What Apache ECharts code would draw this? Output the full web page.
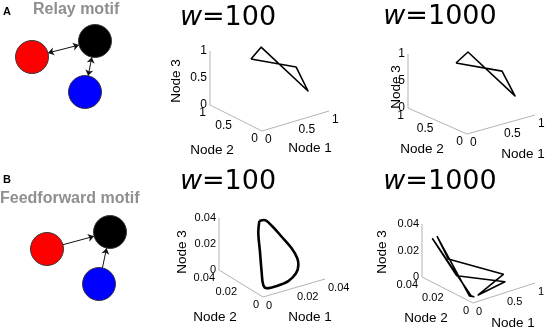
<!DOCTYPE html>
<html>
<head>
<meta charset="utf-8">
<script src="https://cdn.jsdelivr.net/npm/echarts@6/dist/echarts.min.js"></script>
<style>
  html, body { margin: 0; padding: 0; background: #fff; }
  #chart { width: 546px; height: 329px; }
</style>
</head>
<body>
<div id="chart"></div>
<script>
// trajectories, each point is [node 1, node 2, node 3]
const relayW100 = [[0.5, 0.856, 0.735], [0.6, 0.79, 0.95], [0.9, 0.275, 0.275], [0.85, 0.44, 0.66], [0.5, 0.856, 0.735]];
const relayW1000 = [[0.5, 0.763, 0.772], [0.6, 0.675, 0.983], [0.9, 0.224, 0.28], [0.85, 0.386, 0.68], [0.5, 0.763, 0.772]];
const ffW100 = [
  [0.0175, 0.028, 0.0379], [0.0205, 0.028, 0.0376], [0.0241, 0.026, 0.033], [0.0291, 0.024, 0.0238],
  [0.0341, 0.022, 0.0142], [0.0363, 0.02, 0.0068], [0.0356, 0.018, 0.003], [0.0298, 0.012, 0.0017],
  [0.022, 0.008, 0.0005], [0.0131, 0.006, 0.0008], [0.0058, 0.0048, 0.0022], [0.0044, 0.006, 0.0046],
  [0.0062, 0.01, 0.0121], [0.0094, 0.016, 0.0233], [0.014, 0.024, 0.0329], [0.0175, 0.028, 0.0379]
];
const ffW1000 = [
  [0.05, 0.0344, 0.0312], [0.1, 0.0064, 0.0008], [0.12, 0.0052, 0.0004], [0.07, 0.0062, 0.0012],
  [0.1, 0.0329, 0.0324], [0.15, 0.0267, 0.0179],
  [0.8, 0.0151, 0.0022], [0.2, 0.0056, 0.0003], [0.7, 0.009, 0.0011], [0.1, 0.0176, 0.0104],
  [0.05, 0.0344, 0.0312]
];

const ticksUnit = [0, 0.5, 1];
const ticksSmall = [0, 0.02, 0.04];
const labelsUnit = ['0', '0.5', '1'];
const labelsSmall = ['0', '0.02', '0.04'];
const labelsZRelay1000 = ['0', '5', '1'];   // "0." hidden under the axis name in the source

const motifNodes = ['Node 1', 'Node 2', 'Node 3'];
const motifColors = ['#ff0000', '#0000ff', '#000000'];
const relayLinks = [['Node 1', 'Node 3'], ['Node 3', 'Node 2']];
const ffLinks = [['Node 1', 'Node 3'], ['Node 2', 'Node 3']];

const FONT = '"Liberation Sans", Arial, sans-serif';

// layout of each projected 3d box (pixels): origin + full-range axis vectors
const panels = [
  { w: '100', tx: 228, ty: 18, data: relayW100, max: [1, 1, 1], t1: ticksUnit, t2: ticksUnit, t3: ticksUnit,
    l1: labelsUnit, l2: labelsUnit, l3: labelsUnit, O: [262, 131], e1: [67, -20], e2: [-52, -26], e3: [0, -54],
    fs: 12, lw: 1.6, smooth: false, n1: [310, 148], n2: [212, 150], n3: [176, 81] },
  { w: '1000', tx: 440, ty: 17, data: relayW1000, max: [1, 1, 1], t1: ticksUnit, t2: ticksUnit, t3: ticksUnit,
    l1: labelsUnit, l2: labelsUnit, l3: labelsZRelay1000, O: [467, 134], e1: [68, -19], e2: [-59, -26], e3: [0, -54],
    fs: 12, lw: 1.6, smooth: false, n1: [523, 154], n2: [422, 149], n3: [396, 87] },
  { w: '100', tx: 228, ty: 182, data: ffW100, max: [0.04, 0.04, 0.04], t1: ticksSmall, t2: ticksSmall, t3: ticksSmall,
    l1: labelsSmall, l2: labelsSmall, l3: labelsSmall, O: [263, 297], e1: [62, -18], e2: [-44, -27], e3: [0, -52],
    fs: 11, lw: 2.6, smooth: 0.35, n1: [310, 317], n2: [215, 317], n3: [182, 252] },
  { w: '1000', tx: 440, ty: 182, data: ffW1000, max: [1, 0.04, 0.04], t1: ticksUnit, t2: ticksSmall, t3: ticksSmall,
    l1: labelsUnit, l2: labelsSmall, l3: labelsSmall, O: [473, 303], e1: [62, -20], e2: [-51, -26], e3: [0, -53],
    fs: 11, lw: 1.6, smooth: false, n1: [513, 323], n2: [426, 318], n3: [382, 252] }
];

function project(p, cfg) {
  const a = p[0] / cfg.max[0], b = p[1] / cfg.max[1], c = p[2] / cfg.max[2];
  return [
    cfg.O[0] + a * cfg.e1[0] + b * cfg.e2[0] + c * cfg.e3[0],
    cfg.O[1] + a * cfg.e1[1] + b * cfg.e2[1] + c * cfg.e3[1]
  ];
}

const series = [];
const graphic = [];

panels.forEach(cfg => {
  const m = cfg.max;
  // box axes: node1 end -> origin -> node2 end -> up node3
  series.push({
    type: 'line', symbol: 'none', silent: true, animation: false,
    data: [[m[0], 0, 0], [0, 0, 0], [0, m[1], 0], [0, m[1], m[2]]].map(p => project(p, cfg)),
    lineStyle: { color: '#b3b3b3', width: 1 }
  });
  series.push({
    type: 'line', symbol: 'none', silent: true, animation: false, smooth: cfg.smooth,
    data: cfg.data.map(p => project(p, cfg)),
    lineStyle: { color: '#000', width: cfg.lw, join: 'round' }
  });

  const items = [];
  cfg.t1.forEach((v, i) => items.push({ pos: project([v, 0, 0], cfg), text: cfg.l1[i], align: 'left', dx: 3, dy: 9 }));
  cfg.t2.forEach((v, i) => items.push({ pos: project([0, v, 0], cfg), text: cfg.l2[i], align: 'right', dx: -4, dy: 8 }));
  cfg.t3.forEach((v, i) => items.push({ pos: project([0, m[1], v], cfg), text: cfg.l3[i], align: 'right', dx: -3, dy: 0 }));
  series.push({
    type: 'custom', silent: true, animation: false, z: 4,
    data: items.map(it => it.pos),
    renderItem: (params, api) => {
      const it = items[params.dataIndex];
      const p = api.coord([api.value(0), api.value(1)]);
      return {
        type: 'text', x: p[0] + it.dx, y: p[1] + it.dy,
        style: { text: it.text, fill: '#000', font: cfg.fs + 'px ' + FONT, align: it.align, verticalAlign: 'middle' }
      };
    }
  });

  graphic.push({
    type: 'text', x: cfg.tx, y: cfg.ty,
    style: {
      text: '{i|w}{n|=' + cfg.w + '}', align: 'center', verticalAlign: 'middle',
      rich: {
        i: { fontFamily: 'DejaVu Sans', fontSize: 27, fontStyle: 'italic', fill: '#000' },
        n: { fontFamily: 'DejaVu Sans', fontSize: 27, fill: '#000' }
      }
    }
  });
  const nameStyle = { fill: '#000', font: '13.5px ' + FONT, align: 'center', verticalAlign: 'middle' };
  graphic.push({ type: 'text', x: cfg.n1[0], y: cfg.n1[1], style: Object.assign({ text: 'Node 1' }, nameStyle) });
  graphic.push({ type: 'text', x: cfg.n2[0], y: cfg.n2[1], style: Object.assign({ text: 'Node 2' }, nameStyle) });
  graphic.push({ type: 'text', x: cfg.n3[0], y: cfg.n3[1], rotation: Math.PI / 2, style: Object.assign({ text: 'Node 3' }, nameStyle) });
});

// motif diagrams
const motifPos = {
  relay: { 'Node 1': [32, 57], 'Node 2': [85, 92], 'Node 3': [95, 41] },
  ff: { 'Node 1': [47, 249], 'Node 2': [99, 284], 'Node 3': [110, 232] }
};
function motifSeries(key, links, arrows) {
  return {
    type: 'graph', coordinateSystem: 'cartesian2d', silent: true, animation: false, z: 3,
    symbolSize: 33,
    data: motifNodes.map((n, i) => ({
      name: n, value: motifPos[key][n],
      itemStyle: { color: motifColors[i], borderColor: '#3a3a3a', borderWidth: 1 }
    })),
    links: links.map(l => ({ source: l[0], target: l[1] })),
    edgeSymbol: arrows, edgeSymbolSize: 6,
    lineStyle: { color: '#111', width: 1, opacity: 1, curveness: 0 },
    label: { show: false }
  };
}
series.push(motifSeries('relay', relayLinks, ['arrow', 'arrow']));
series.push(motifSeries('ff', ffLinks, ['none', 'arrow']));

const motifText = { fill: '#8f8f8f', font: 'bold 16px ' + FONT, verticalAlign: 'middle' };
graphic.push({ type: 'text', x: 3, y: 12, style: { text: 'A', fill: '#000', font: 'bold 11px ' + FONT, verticalAlign: 'middle' } });
graphic.push({ type: 'text', x: 33, y: 10, style: Object.assign({ text: 'Relay motif' }, motifText) });
graphic.push({ type: 'text', x: 3, y: 180, style: { text: 'B', fill: '#000', font: 'bold 11px ' + FONT, verticalAlign: 'middle' } });
graphic.push({ type: 'text', x: 0, y: 199, style: Object.assign({ text: 'Feedforward motif' }, motifText) });

const chart = echarts.init(document.getElementById('chart'));
chart.setOption({
  animation: false,
  grid: { left: 0, right: 0, top: 0, bottom: 0 },
  xAxis: { type: 'value', min: 0, max: 546, show: false },
  yAxis: { type: 'value', min: 0, max: 329, inverse: true, show: false },
  series: series,
  graphic: graphic
});
</script>
</body>
</html>
